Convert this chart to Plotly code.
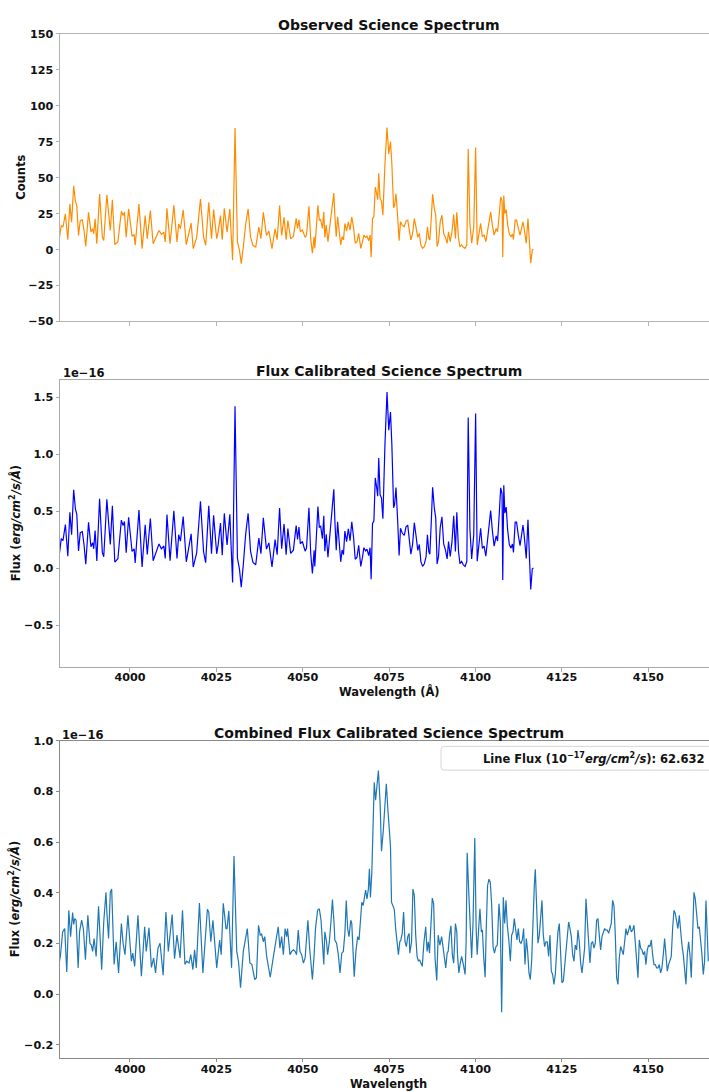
import plotly.graph_objects as go

# ---------------------------------------------------------------------------
# Observed spectrum: wavelength (Angstrom), raw counts and flux (1e-16 cgs/A)
# ---------------------------------------------------------------------------
obs_wave = [
    3979.6, 3980.1, 3980.6, 3981.3, 3982.0, 3982.6, 3983.1, 3983.7, 3984.2, 3984.6,
    3985.1, 3985.6, 3986.2, 3986.7, 3987.2, 3988.0, 3988.7, 3989.2, 3989.5, 3989.9,
    3990.4, 3991.2, 3992.0, 3992.4, 3993.3, 3994.3, 3994.9, 3995.6, 3996.5, 3997.5,
    3998.0, 3998.4, 3998.9, 3999.6, 4000.6, 4001.2, 4001.5, 4002.6, 4003.5, 4004.4,
    4005.0, 4005.9, 4006.7, 4007.4, 4008.4, 4009.1, 4009.8, 4010.2, 4010.7, 4011.6,
    4012.7, 4013.6, 4014.1, 4014.6, 4015.4, 4016.3, 4016.9, 4017.7, 4018.3, 4019.3,
    4020.4, 4021.3, 4021.9, 4022.8, 4023.6, 4024.2, 4025.1, 4025.5, 4026.2, 4026.7,
    4027.3, 4028.1, 4028.9, 4029.7, 4030.4, 4031.1, 4031.7, 4032.2, 4032.8, 4033.5,
    4034.2, 4034.9, 4035.6, 4036.4, 4037.3, 4037.9, 4038.6, 4039.5, 4040.2, 4041.1,
    4042.0, 4042.6, 4043.3, 4043.9, 4044.6, 4045.2, 4045.7, 4046.5, 4047.3, 4048.1,
    4048.5, 4048.9, 4049.3, 4049.9, 4050.7, 4051.1, 4051.8, 4052.3, 4052.8, 4053.3,
    4053.5, 4053.9, 4054.4, 4054.8, 4055.2, 4055.7, 4056.1, 4056.4, 4056.8, 4057.3,
    4057.8, 4058.4, 4059.0, 4059.3, 4059.7, 4060.1, 4060.5, 4061.0, 4061.4, 4061.8,
    4062.2, 4062.7, 4063.2, 4063.7, 4064.2, 4064.7, 4065.2, 4065.7, 4066.2, 4066.8,
    4067.3, 4067.7, 4068.2, 4068.6, 4069.1, 4069.5, 4069.8, 4070.2, 4070.6, 4071.0,
    4071.4, 4071.7, 4072.0, 4072.4, 4072.8, 4073.2, 4073.8, 4074.4, 4074.9, 4075.4,
    4075.8, 4076.3, 4076.6, 4077.0, 4077.5, 4077.9, 4078.3, 4078.8, 4079.4, 4079.9,
    4080.4, 4080.9, 4081.3, 4081.8, 4082.3, 4082.8, 4083.3, 4083.75, 4084.2, 4084.7,
    4085.2, 4085.7, 4086.1, 4086.5, 4086.8, 4087.2, 4087.6, 4088.1, 4088.5, 4088.9,
    4089.3, 4089.8, 4090.3, 4090.8, 4091.3, 4091.8, 4092.2, 4092.7, 4093.2, 4093.7,
    4094.2, 4094.6, 4095.1, 4095.5, 4096.0, 4096.5, 4097.0, 4097.5, 4097.9, 4098.4,
    4098.9, 4099.5, 4100.05, 4100.5, 4101.0, 4101.5, 4102.0, 4102.5, 4103.0, 4103.4,
    4103.9, 4104.4, 4104.9, 4105.4, 4106.0, 4106.4, 4106.9, 4107.3, 4107.7, 4107.9,
    4108.2, 4108.5, 4108.9, 4109.3, 4109.8, 4110.3, 4110.7, 4111.0, 4111.5, 4111.9,
    4112.4, 4112.9, 4113.4, 4113.75, 4114.1, 4114.7, 4115.2, 4115.6, 4116.0, 4116.45,
    4116.8,
]

obs_counts = [
    8.7, 16.8, 15.6, 24.8, 6.9, 31.7, 19.0, 44.4, 33.6, 30.6,
    9.9, 20.2, 20.7, 13.3, 2.3, 26.0, 12.2, 14.5, 11.0, 21.4,
    4.1, 38.6, 8.7, 6.4, 38.2, 13.3, 34.7, 3.5, 5.3, 26.7,
    23.7, 26.0, 8.7, 28.3, 9.2, 10.6, 3.0, 31.7, 0.7, 23.7,
    7.6, 27.1, 4.1, 8.3, 13.3, 10.6, 12.2, 5.3, 28.8, 4.1,
    30.8, 5.3, 17.9, 14.5, 27.6, 3.5, 10.6, 18.4, 0.7, 8.3,
    35.2, 8.7, 3.0, 32.9, 7.6, 27.8, 7.6, 12.2, 23.7, 6.9,
    28.8, 12.2, 28.3, -7.4, 84.6, 5.3, -0.5, -9.7, 1.8, 17.9,
    28.3, 8.7, 3.0, 1.8, 15.6, 7.6, 26.0, 9.9, 12.9, 0.7,
    14.5, 6.9, 30.6, 9.9, 22.5, 6.9, 20.2, 7.6, 9.2, 21.7,
    14.7, 20.9, 12.4, 13.6, 8.5, 10.1, 30.1, 7.8, -2.5, 9.0,
    0.9, 17.0, 30.8, 20.5, 20.9, 14.7, 26.2, 8.5, 17.0, 5.5,
    14.7, 25.0, 39.3, 23.9, 9.0, 22.8, 14.7, 3.2, 9.0, 6.7,
    18.2, 13.1, 19.3, 13.6, 22.8, 15.4, 4.4, 5.5, 11.3, 0.9,
    5.5, 10.1, 8.5, 9.4, 6.2, 10.1, -5.3, 21.6, 22.8, 43.5,
    38.9, 34.7, 53.1, 35.4, 33.8, 23.9, 59.6, 84.9, 66.5, 75.2,
    59.6, 29.2, 30.8, 38.9, 22.3, 6.2, 19.3, 17.0, 15.9, 20.0,
    20.5, 13.1, 6.7, 11.3, 21.6, 15.4, 8.5, 11.3, 3.2, 0.9,
    2.1, 5.5, 15.9, 7.8, 6.7, 21.6, 38.4, 28.5, 23.9, 2.1,
    5.5, 19.3, 23.9, 11.3, 8.5, 4.4, 12.4, 5.5, 12.4, 24.4,
    7.8, 26.0, 7.8, 2.1, 3.2, 1.6, 0.9, 3.2, 69.9, 18.2,
    4.4, 15.4, 71.0, 3.2, 11.3, 18.2, 9.0, 10.1, 5.5, 11.3,
    18.2, 26.2, 17.0, 10.1, 14.7, 12.4, 25.0, 36.6, 33.8, -5.3,
    37.7, 25.0, 27.8, 17.7, 10.8, 9.0, 10.8, 7.1, 20.5, 20.5,
    14.7, 10.1, 15.4, 19.3, 14.7, 4.4, 21.6, 4.4, -9.4, -0.2,
    0.2,
]

obs_flux = [
    0.135, 0.260, 0.242, 0.384, 0.107, 0.491, 0.295, 0.688, 0.521, 0.474,
    0.153, 0.313, 0.321, 0.206, 0.036, 0.403, 0.189, 0.225, 0.171, 0.332,
    0.065, 0.610, 0.137, 0.101, 0.604, 0.210, 0.548, 0.055, 0.084, 0.422,
    0.374, 0.411, 0.137, 0.447, 0.148, 0.171, 0.048, 0.510, 0.011, 0.382,
    0.122, 0.436, 0.066, 0.134, 0.214, 0.171, 0.196, 0.087, 0.472, 0.067,
    0.505, 0.087, 0.294, 0.238, 0.453, 0.057, 0.174, 0.302, 0.011, 0.136,
    0.588, 0.145, 0.050, 0.549, 0.127, 0.464, 0.127, 0.204, 0.396, 0.115,
    0.481, 0.204, 0.473, -0.124, 1.421, 0.090, -0.009, -0.165, 0.031, 0.304,
    0.481, 0.148, 0.051, 0.031, 0.265, 0.129, 0.442, 0.168, 0.223, 0.012,
    0.251, 0.119, 0.529, 0.171, 0.389, 0.119, 0.349, 0.131, 0.159, 0.375,
    0.254, 0.362, 0.215, 0.235, 0.150, 0.178, 0.530, 0.137, -0.044, 0.158,
    0.016, 0.299, 0.542, 0.361, 0.368, 0.259, 0.461, 0.150, 0.299, 0.097,
    0.259, 0.440, 0.692, 0.421, 0.158, 0.408, 0.263, 0.057, 0.161, 0.120,
    0.326, 0.234, 0.345, 0.243, 0.408, 0.276, 0.079, 0.098, 0.202, 0.016,
    0.098, 0.181, 0.152, 0.168, 0.111, 0.181, -0.095, 0.393, 0.415, 0.792,
    0.708, 0.632, 0.966, 0.644, 0.615, 0.435, 1.085, 1.545, 1.210, 1.369,
    1.085, 0.531, 0.561, 0.708, 0.406, 0.113, 0.351, 0.309, 0.289, 0.364,
    0.379, 0.242, 0.124, 0.209, 0.400, 0.285, 0.157, 0.209, 0.059, 0.017,
    0.039, 0.102, 0.294, 0.144, 0.124, 0.400, 0.710, 0.527, 0.442, 0.039,
    0.102, 0.357, 0.452, 0.214, 0.161, 0.083, 0.234, 0.104, 0.234, 0.461,
    0.147, 0.491, 0.147, 0.040, 0.060, 0.030, 0.017, 0.060, 1.321, 0.344,
    0.083, 0.291, 1.356, 0.062, 0.218, 0.351, 0.174, 0.195, 0.106, 0.218,
    0.351, 0.506, 0.328, 0.195, 0.284, 0.239, 0.483, 0.706, 0.652, -0.102,
    0.728, 0.483, 0.537, 0.342, 0.208, 0.177, 0.213, 0.140, 0.404, 0.404,
    0.290, 0.199, 0.303, 0.380, 0.290, 0.087, 0.426, 0.087, -0.185, -0.004,
    0.004,
]

# ---------------------------------------------------------------------------
# Combined (stacked) flux-calibrated spectrum, flux in 1e-16 erg/cm2/s/A
# ---------------------------------------------------------------------------
comb_wave = [
    3979.45, 3979.9, 3980.5, 3981.1, 3981.7, 3982.3, 3982.8, 3983.4, 3983.7, 3984.0,
    3984.4, 3985.0, 3985.4, 3986.0, 3986.5, 3987.1, 3987.8, 3988.4, 3988.8, 3989.2,
    3989.6, 3990.2, 3990.9, 3991.8, 3992.4, 3993.05, 3993.3, 3993.8, 3994.3, 3994.7,
    3995.4, 3996.0, 3996.7, 3997.5, 3998.0, 3998.55, 3999.4, 3999.9, 4000.4, 4000.8,
    4001.35, 4002.3, 4003.3, 4004.25, 4004.7, 4005.5, 4006.2, 4006.85, 4007.4, 4008.1,
    4008.7, 4009.6, 4010.4, 4011.1, 4012.2, 4012.9, 4013.6, 4014.5, 4015.2, 4015.9,
    4016.4, 4017.1, 4017.6, 4018.2, 4018.7, 4019.2, 4020.1, 4021.1, 4022.4, 4022.8,
    4023.4, 4024.0, 4024.5, 4025.1, 4025.95, 4026.4, 4027.0, 4027.8, 4028.1, 4028.6,
    4029.4, 4030.1, 4030.9, 4031.4, 4032.0, 4032.8, 4033.96, 4034.7, 4035.3, 4036.1,
    4036.6, 4037.2, 4037.7, 4038.1, 4038.6, 4039.0, 4039.6, 4040.6, 4041.6,
    4042.45, 4042.9, 4043.4, 4043.9, 4044.4, 4044.9, 4045.35, 4045.6, 4046.3, 4046.8,
    4047.3, 4047.8, 4048.2, 4048.7, 4049.2, 4049.7, 4050.2, 4050.7, 4051.1, 4051.5,
    4052.0, 4052.4, 4052.8, 4053.3, 4053.7, 4054.3, 4054.8, 4055.3, 4055.7, 4056.1,
    4056.4, 4056.9, 4057.2, 4057.7, 4058.2, 4058.6, 4059.05, 4059.3, 4059.8, 4060.3,
    4060.8, 4061.3, 4061.75, 4062.2, 4062.6, 4063.0, 4063.4, 4063.9, 4064.2, 4064.6,
    4064.9, 4065.4, 4065.9, 4066.3, 4066.7, 4067.1, 4067.5, 4067.8, 4068.2, 4068.6,
    4069.0, 4069.3, 4069.6, 4070.0, 4070.3, 4070.7, 4071.1, 4071.5, 4071.9, 4072.4,
    4072.8, 4073.3, 4073.8, 4074.2, 4074.6, 4075.0, 4075.4, 4075.7, 4076.1, 4076.5,
    4076.9, 4077.3, 4077.7, 4078.1, 4078.4, 4078.8, 4079.2, 4079.6, 4080.0, 4080.4,
    4080.8, 4081.0, 4081.5, 4081.9, 4082.3, 4082.7, 4083.1, 4083.5, 4083.8, 4084.2,
    4084.6, 4085.1, 4085.6, 4086.0, 4086.35, 4086.7, 4087.1, 4087.5, 4087.9, 4088.3,
    4088.8, 4089.2, 4089.7, 4090.2, 4090.6, 4091.0, 4091.4, 4091.8, 4092.1, 4092.5,
    4092.9, 4093.3, 4093.7, 4094.2, 4094.6, 4094.8, 4095.2, 4095.6, 4096.0, 4096.5,
    4097.0, 4097.3, 4097.6, 4098.1, 4098.5, 4098.9, 4099.3, 4099.8, 4100.2, 4100.5,
    4100.9, 4101.3, 4101.7, 4102.0, 4102.4, 4102.8, 4103.1, 4103.5, 4103.9, 4104.3,
    4104.7, 4105.1, 4105.5,
    4105.94, 4106.32, 4106.8, 4107.2, 4107.58, 4108.06, 4108.45, 4108.83, 4109.22, 4109.7,
    4110.09, 4110.47, 4110.86, 4111.24, 4111.63, 4112.01, 4112.4, 4112.79, 4113.17, 4113.56,
    4113.94, 4114.33, 4114.72, 4115.1, 4115.49, 4115.87, 4116.26, 4116.65, 4117.03, 4117.32,
    4117.71, 4118.09, 4118.48, 4118.86, 4119.25, 4119.64, 4120.02, 4120.41, 4120.79, 4121.18,
    4121.57, 4121.95, 4122.34, 4122.72, 4123.11, 4123.5, 4123.88, 4124.27, 4124.65, 4125.04,
    4125.43, 4125.81, 4126.2, 4126.58, 4126.97, 4127.35, 4127.74, 4128.13, 4128.51, 4128.9,
    4129.28, 4129.67, 4130.06, 4130.44, 4130.83, 4131.21, 4131.6, 4131.99, 4132.37, 4132.76,
    4133.14, 4133.53, 4133.92, 4134.3, 4134.69, 4135.07, 4135.46, 4135.84, 4136.23, 4136.62,
    4137.0, 4137.39, 4137.77, 4138.16, 4138.55, 4138.93, 4139.32, 4139.7, 4140.09, 4140.48,
    4140.86, 4141.25, 4141.63, 4142.02, 4142.41, 4142.79, 4143.18, 4143.56, 4143.95, 4144.34,
    4144.72, 4145.11, 4145.49, 4145.88, 4146.26, 4146.65, 4147.04, 4147.42, 4147.81, 4148.19,
    4148.58, 4148.97, 4149.35, 4149.74, 4150.12, 4150.51, 4150.9, 4151.28, 4151.67, 4152.05,
    4152.44, 4152.83, 4153.21, 4153.6, 4153.98, 4154.37, 4154.75, 4155.14, 4155.53, 4155.91,
    4156.3, 4156.68, 4157.07, 4157.46, 4157.84, 4158.23, 4158.61, 4159.0, 4159.39, 4159.77,
    4160.16, 4160.54, 4160.93, 4161.32, 4161.7, 4162.09, 4162.47, 4162.86, 4163.25, 4163.63,
    4164.02, 4164.4, 4164.79, 4165.18, 4165.56, 4165.95, 4166.33, 4166.72, 4167.1, 4167.4,
]

comb_flux = [
    0.117, 0.156, 0.246, 0.259, 0.088, 0.331, 0.227, 0.322, 0.275, 0.298,
    0.292, 0.104, 0.246, 0.292, 0.259, 0.136, 0.311, 0.201, 0.194, 0.169,
    0.220, 0.149, 0.347, 0.097, 0.285, 0.402, 0.324, 0.220, 0.402, 0.415,
    0.117, 0.207, 0.084, 0.279, 0.201, 0.156, 0.311, 0.227, 0.130, 0.162,
    0.110, 0.311, 0.071, 0.266, 0.169, 0.262, 0.106, 0.143, 0.084, 0.182,
    0.201, 0.075, 0.324, 0.169, 0.314, 0.140, 0.233, 0.143, 0.331, 0.117,
    0.130, 0.123, 0.156, 0.097, 0.175, 0.104, 0.360, 0.084, 0.335, 0.324,
    0.207, 0.292, 0.194, 0.104, 0.214, 0.156, 0.359, 0.259, 0.259, 0.329,
    0.104, 0.545, 0.169, 0.130, 0.026, 0.169, 0.259, 0.123, 0.117, 0.058,
    0.065, 0.272, 0.233, 0.237, 0.207, 0.227, 0.145, 0.067, 0.156,
    0.233, 0.266, 0.182, 0.227, 0.156, 0.259, 0.227, 0.259, 0.156, 0.169,
    0.175, 0.169, 0.156, 0.253, 0.169, 0.156, 0.123, 0.143, 0.220, 0.292,
    0.182, 0.130, 0.058, 0.156, 0.259, 0.331, 0.337, 0.292, 0.182, 0.117,
    0.246, 0.207, 0.156, 0.207, 0.292, 0.373, 0.285, 0.214, 0.201, 0.156,
    0.084, 0.162, 0.169, 0.240, 0.370, 0.259, 0.227, 0.292, 0.279, 0.156,
    0.069, 0.169, 0.227, 0.214, 0.298, 0.363, 0.350, 0.382, 0.411, 0.376,
    0.415, 0.495, 0.382, 0.480, 0.700, 0.836, 0.765, 0.823, 0.882, 0.752,
    0.564, 0.642, 0.739, 0.830, 0.739, 0.674, 0.583, 0.363, 0.344, 0.335,
    0.259, 0.207, 0.156, 0.207, 0.214, 0.240, 0.324, 0.207, 0.188, 0.227,
    0.240, 0.162, 0.207, 0.415, 0.389, 0.233, 0.149, 0.130, 0.136, 0.123,
    0.110, 0.207, 0.266, 0.169, 0.207, 0.162, 0.298, 0.379, 0.357, 0.143,
    0.054, 0.233, 0.194, 0.227, 0.188, 0.136, 0.104, 0.162, 0.169, 0.233,
    0.270, 0.156, 0.123, 0.279, 0.246, 0.156, 0.084, 0.123, 0.149, 0.117,
    0.078, 0.207, 0.558, 0.389, 0.259, 0.143, 0.285, 0.616, 0.259, 0.156,
    0.253, 0.337, 0.246, 0.253, 0.143, 0.067, 0.246, 0.428, 0.454, 0.441,
    0.350, 0.188, 0.162,
    0.188, 0.194, 0.357, 0.285, -0.071, 0.382, 0.279, 0.370, 0.272, 0.207,
    0.130, 0.233, 0.246, 0.298, 0.253, 0.214, 0.259, 0.207, 0.201, 0.214,
    0.259, 0.117, 0.220, 0.169, 0.084, 0.058, 0.130, 0.311, 0.428, 0.493,
    0.311, 0.201, 0.233, 0.318, 0.370, 0.233, 0.188, 0.207, 0.207, 0.149,
    0.233, 0.091, 0.078, 0.039, 0.078, 0.169, 0.246, 0.279, 0.143, 0.045,
    0.052, 0.104, 0.156, 0.207, 0.285, 0.259, 0.227, 0.156, 0.130, 0.194,
    0.175, 0.253, 0.207, 0.123, 0.084, 0.130, 0.182, 0.376, 0.285, 0.220,
    0.123, 0.201, 0.207, 0.182, 0.201, 0.292, 0.298, 0.233, 0.175, 0.227,
    0.246, 0.259, 0.253, 0.253, 0.240, 0.259, 0.279, 0.370, 0.350, 0.233,
    0.065, 0.039, 0.143, 0.188, 0.169, 0.156, 0.207, 0.259, 0.233, 0.259,
    0.272, 0.246, 0.253, 0.272, 0.194, 0.149, 0.065, 0.214, 0.182, 0.175,
    0.156, 0.169, 0.117, 0.175, 0.194, 0.188, 0.214, 0.156, 0.117, 0.117,
    0.104, 0.104, 0.117, 0.084, 0.104, 0.156, 0.220, 0.156, 0.091, 0.117,
    0.130, 0.149, 0.259, 0.331, 0.318, 0.285, 0.259, 0.311, 0.246, 0.194,
    0.156, 0.084, 0.039, 0.156, 0.207, 0.156, 0.065, 0.233, 0.402, 0.376,
    0.298, 0.259, 0.266, 0.214, 0.156, 0.078, 0.130, 0.370, 0.207, 0.130,
]

assert len(obs_wave) == len(obs_counts) == len(obs_flux)
assert len(comb_wave) == len(comb_flux)

LINE_FLUX = 62.632          # integrated line flux, 1e-17 erg/cm2/s
WAVE_RANGE = [3979.74, 4167.6]
WAVE_TICKS = [4000, 4025, 4050, 4075, 4100, 4125, 4150]

# ---------------------------------------------------------------------------
# Layout helpers (page is 709 x 1092 px)
# ---------------------------------------------------------------------------
W, H = 709, 1092


def px(x):
    return x / W


def py(y):
    return 1 - y / H


FONT = "DejaVu Sans"
TICK_FONT = dict(family=FONT, size=11.2, color="#111111", weight="bold")
LABEL_FONT = dict(family=FONT, size=11.5, color="#111111", weight="bold")
TITLE_FONT = dict(family=FONT, size=14, color="#111111", weight="bold")

x_dom = [px(60), 1.0]
panels = [  # (top px, bottom px)
    (28.3, 319.3),
    (378.3, 669.0),
    (743.5, 1064.3),
]

fig = go.Figure()

fig.add_trace(go.Scatter(x=obs_wave, y=obs_counts, mode="lines",
                         line=dict(color="#FF8C00", width=1.2),
                         xaxis="x", yaxis="y", showlegend=False))
fig.add_trace(go.Scatter(x=obs_wave, y=obs_flux, mode="lines",
                         line=dict(color="#0000FF", width=1.2),
                         xaxis="x2", yaxis="y2", showlegend=False))
fig.add_trace(go.Scatter(x=comb_wave, y=comb_flux, mode="lines",
                         line=dict(color="#1f77b4", width=1.2),
                         xaxis="x3", yaxis="y3", showlegend=False))

spine = ["#b4b4b4", "#a8a8a8", "#8a8a8a"]

common_x = dict(range=WAVE_RANGE, tickvals=WAVE_TICKS, ticks="outside",
                ticklen=3.5, tickwidth=1, showgrid=False, zeroline=False,
                showline=True, mirror=True, linewidth=1, tickfont=TICK_FONT,
                domain=x_dom)
common_y = dict(ticks="outside", ticklen=3.5, tickwidth=1, showgrid=False,
                zeroline=False, showline=True, mirror=False, linewidth=1,
                tickfont=TICK_FONT)

fig.update_layout(
    width=W, height=H,
    margin=dict(l=0, r=0, t=0, b=0),
    paper_bgcolor="white", plot_bgcolor="white",
    showlegend=False,
    xaxis=dict(common_x, anchor="y", showticklabels=False,
               linecolor=spine[0], tickcolor=spine[0]),
    yaxis=dict(common_y, anchor="x", range=[-50, 150],
               tickvals=[-50, -25, 0, 25, 50, 75, 100, 125, 150],
               domain=[py(panels[0][1]), py(panels[0][0])],
               linecolor=spine[0], tickcolor=spine[0]),
    xaxis2=dict(common_x, anchor="y2", showticklabels=True, ticklabelstandoff=-4,
                linecolor=spine[1], tickcolor=spine[1]),
    yaxis2=dict(common_y, anchor="x2", range=[-0.865, 1.652],
                tickvals=[-0.5, 0.0, 0.5, 1.0, 1.5], tickformat=".1f",
                domain=[py(panels[1][1]), py(panels[1][0])],
                linecolor=spine[1], tickcolor=spine[1]),
    xaxis3=dict(common_x, anchor="y3", showticklabels=True, ticklabelstandoff=-3,
                linecolor=spine[2], tickcolor=spine[2]),
    yaxis3=dict(common_y, anchor="x3", range=[-0.25, 1.0],
                tickvals=[-0.2, 0.0, 0.2, 0.4, 0.6, 0.8, 1.0], tickformat=".1f",
                domain=[py(panels[2][1]), py(panels[2][0])],
                linecolor=spine[2], tickcolor=spine[2]),
)

flux_label = "Flux (<i>erg/cm</i><sup>2</sup><i>/s/Å</i>)"

annotations = [
    # subplot titles
    dict(text="Observed Science Spectrum", x=px(389), y=py(19.3), font=TITLE_FONT),
    dict(text="Flux Calibrated Science Spectrum", x=px(389), y=py(369.5), font=TITLE_FONT),
    dict(text="Combined Flux Calibrated Science Spectrum", x=px(389), y=py(735.3), font=TITLE_FONT),
    # y-axis titles
    dict(text="Counts", x=px(21), y=py(173.8), textangle=-90, font=LABEL_FONT),
    dict(text=flux_label, x=px(15), y=py(523.5), textangle=-90, font=LABEL_FONT),
    dict(text=flux_label, x=px(14), y=py(904), textangle=-90, font=LABEL_FONT),
    # x-axis titles
    dict(text="Wavelength (Å)", x=px(389), y=py(693.3), font=LABEL_FONT),
    dict(text="Wavelength", x=px(388), y=py(1081.5), yanchor="top", font=LABEL_FONT),
    # scale offsets
    dict(text="1e\u221216", x=px(61), y=py(371.7), xanchor="left", font=LABEL_FONT),
    dict(text="1e\u221216", x=px(60), y=py(737.3), xanchor="left", font=LABEL_FONT),
    # legend entry carrying the integrated line flux
    dict(text=("Line Flux (10<sup>\u221217</sup><i>erg/cm</i><sup>2</sup><i>/s</i>): "
               f"{LINE_FLUX:.3f}"),
         x=px(706.5), y=py(761.7), xanchor="right", font=LABEL_FONT),
]
for a in annotations:
    a.setdefault("xanchor", "center")
    a.setdefault("yanchor", "middle")
    a.update(xref="paper", yref="paper", showarrow=False)
fig.update_layout(annotations=annotations)

# rounded legend frame (open to the right, runs off the page edge)
lx0, lx1, ly0, ly1, r = 441, 716, 749.3, 773.3, 3.5
frame = (f"M {px(lx1)},{py(ly0)} L {px(lx0 + r)},{py(ly0)} "
         f"Q {px(lx0)},{py(ly0)} {px(lx0)},{py(ly0 + r)} "
         f"L {px(lx0)},{py(ly1 - r)} "
         f"Q {px(lx0)},{py(ly1)} {px(lx0 + r)},{py(ly1)} "
         f"L {px(lx1)},{py(ly1)} Z")
fig.add_shape(type="path", path=frame, xref="paper", yref="paper",
              line=dict(color="#d6d6d6", width=1),
              fillcolor="rgba(255,255,255,0.8)", layer="above")

fig.write_html("out.html")
